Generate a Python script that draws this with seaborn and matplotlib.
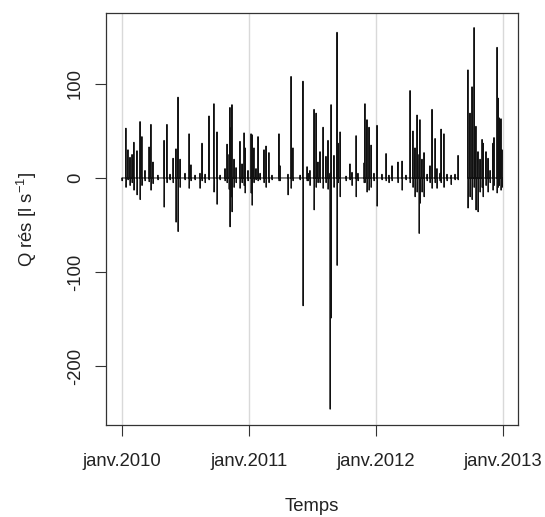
import numpy as np
import pandas as pd
import seaborn as sns
import matplotlib.pyplot as plt

# spikes: time in years after 1 Jan 2010, peak up / trough down in l/s
spike_year = [0.000, 0.031, 0.047, 0.063, 0.079, 0.094, 0.118, 0.142, 0.157, 0.181,
              0.213, 0.228, 0.244, 0.283, 0.331, 0.354, 0.378, 0.402, 0.425, 0.441,
              0.457, 0.496, 0.528, 0.543, 0.575, 0.614, 0.630, 0.654, 0.685, 0.724,
              0.748, 0.772, 0.811, 0.827, 0.843, 0.850, 0.858, 0.866, 0.882, 0.898,
              0.929, 0.945, 0.961, 0.969, 0.992, 1.016, 1.024, 1.039, 1.055, 1.071,
              1.087, 1.118, 1.134, 1.157, 1.181, 1.236, 1.244, 1.307, 1.331, 1.346,
              1.402, 1.425, 1.457, 1.465, 1.480, 1.512, 1.528, 1.543, 1.559, 1.583,
              1.606, 1.622, 1.638, 1.646, 1.669, 1.693, 1.701, 1.717, 1.764, 1.795,
              1.811, 1.843, 1.858, 1.906, 1.913, 1.929, 1.945, 1.961, 1.984, 2.008,
              2.047, 2.079, 2.102, 2.126, 2.173, 2.205, 2.236, 2.268, 2.291, 2.307,
              2.323, 2.339, 2.346, 2.362, 2.378, 2.402, 2.425, 2.441, 2.465, 2.480,
              2.504, 2.512, 2.535, 2.559, 2.591, 2.622, 2.646,
              2.724, 2.740, 2.756, 2.772, 2.787, 2.803, 2.819, 2.835, 2.843, 2.866,
              2.882, 2.898, 2.921, 2.929, 2.953, 2.961, 2.969, 2.984, 2.992]
spike_up = [0, 53, 30, 22, 25, 38, 29, 60, 44, 8,
            33, 57, 17, 3, 40, 57, 4, 21, 31, 86,
            20, 5, 47, 14, 3, 5, 37, 4, 66, 79,
            49, 3, 10, 36, 25, 75, 53, 78, 20, 11,
            39, 15, 48, 32, 8, 47, 46, 32, 10, 44,
            5, 30, 34, 27, 3, 47, 13, 4, 108, 32,
            3, 103, 12, 5, 8, 73, 69, 17, 28, 54,
            23, 40, 5, 78, 24, 155, 37, 49, 2, 15,
            6, 45, 5, 16, 79, 62, 54, 35, 5, 56,
            4, 26, 3, 13, 17, 18, 3, 93, 50, 32,
            67, 25, 62, 20, 27, 4, 13, 73, 42, 10,
            5, 52, 47, 4, 3, 4, 24,
            115, 69, 97, 160, 55, 28, 20, 41, 37, 28,
            21, 8, 37, 43, 139, 85, 64, 63, 30]
spike_down = [-3, -10, -2, -8, -5, -13, -18, -23, -8, -3,
              -4, -13, -6, -2, -31, -5, -2, -5, -47, -57,
              -10, -2, -11, -3, -2, -11, -3, -5, -2, -15,
              -28, -2, -3, -5, -12, -52, -20, -36, -10, -5,
              -11, -5, -8, -16, -3, -16, -29, -5, -2, -3,
              -2, -5, -10, -5, -2, -3, -3, -18, -11, -3,
              -2, -136, -3, -3, -8, -34, -10, -5, -5, -11,
              -5, -12, -246, -149, -10, -93, -5, -20, -3, -2,
              -8, -20, -3, -5, -5, -15, -13, -10, -3, -30,
              -2, -3, -5, -3, -5, -13, -2, -5, -10, -20,
              -15, -59, -27, -15, -20, -3, -5, -11, -5, -11,
              -3, -5, -10, -3, -7, -2, -2,
              -32, -20, -23, -10, -34, -36, -15, -10, -20, -8,
              -15, -5, -13, -8, -16, -10, -8, -13, -10]
# the record has a hole between these two dates
gap_start, gap_end = 2.660, 2.715

start = pd.Timestamp("2010-01-01")
eps = 0.3 / 365.25
rows = []
for yr, up, dn in zip(spike_year, spike_up, spike_down):
    seg = 0 if yr < gap_start else 1
    for dt, q in [(yr - eps, 0), (yr, up), (yr + eps, dn), (yr + 2 * eps, 0)]:
        rows.append((start + pd.to_timedelta(dt * 365.25, unit="D"), q, seg))
df = pd.DataFrame(rows, columns=["Temps", "Q", "seg"])

sns.set_style("white")
plt.rcParams["font.family"] = ["Liberation Sans", "DejaVu Sans"]
plt.rcParams["mathtext.fontset"] = "custom"
plt.rcParams["mathtext.rm"] = "Liberation Sans"
plt.rcParams["mathtext.it"] = "Liberation Sans"

fig = plt.figure(figsize=(5.45, 5.17), dpi=100)
ax = fig.add_axes([106 / 545, 92 / 517, 412 / 545, 412 / 517])

years = pd.to_datetime(["2010-01-01", "2011-01-01", "2012-01-01", "2013-01-01"])
for y in years:
    ax.axvline(y, color="#d9d9d9", lw=1, zorder=0)

sns.lineplot(data=df, x="Temps", y="Q", units="seg", estimator=None,
             color="#111111", lw=0.7, ax=ax)

ax.set_xlim(start - pd.to_timedelta(0.126 * 365.25, unit="D"),
            start + pd.to_timedelta(3.118 * 365.25, unit="D"))
ax.set_ylim(-262.8, 175.5)
ax.set_xticks(years)
ax.set_xticklabels(["janv.2010", "janv.2011", "janv.2012", "janv.2013"])
ax.set_yticks([-200, -100, 0, 100])
ax.set_yticklabels(["-200", "-100", "0", "100"], rotation=90, va="center")
ax.tick_params(axis="both", direction="out", length=8, width=0.8, color="#333333",
               labelsize=13.3, labelcolor="#222222", left=True, bottom=True)
ax.tick_params(axis="x", pad=12.5)
ax.tick_params(axis="y", pad=8)
for s in ax.spines.values():
    s.set_color("#333333")
    s.set_linewidth(0.9)

ax.set_xlabel("Temps", fontsize=13.3, color="#222222", labelpad=20)
ax.set_ylabel("Q rés [l s$^{-1}$]", fontsize=13.3, color="#222222", labelpad=20)

fig.savefig("out.png", dpi=100)
